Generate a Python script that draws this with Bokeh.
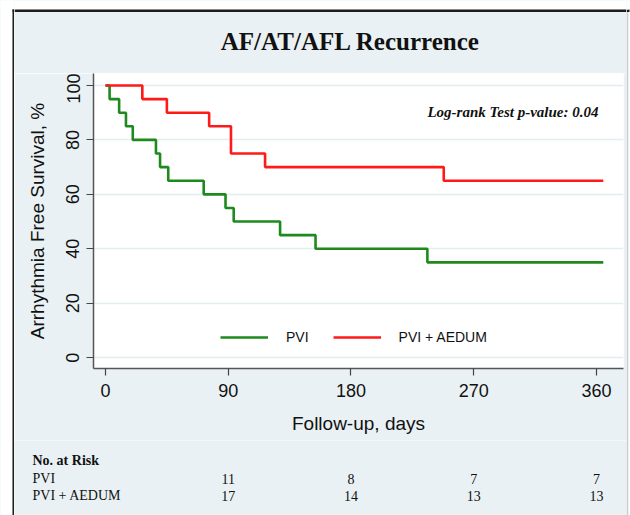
from bokeh.plotting import figure
from bokeh.models import Range1d, FixedTicker, Label, Legend, LegendItem
from bokeh.layouts import column, row
from bokeh.core.properties import value
from bokeh.embed import file_html
from bokeh.resources import INLINE

# ---- data ----
pvi_days = [0, 3, 10, 15, 20, 37, 40, 46, 72, 88, 94, 128, 154, 236, 365]
pvi_surv = [100, 95, 90, 85, 80, 75, 70, 65, 60, 55, 50, 45, 40, 35, 35]
aedum_days = [0, 27, 45, 76, 92, 117, 248, 365]
aedum_surv = [100, 95, 90, 85, 75, 70, 65, 65]

x_ticks = [0, 90, 180, 270, 360]
y_ticks = [0, 20, 40, 60, 80, 100]
risk_days = [90, 180, 270, 360]
risk_pvi = [11, 8, 7, 7]
risk_aedum = [17, 14, 13, 13]
risk_rows = ["PVI", "PVI + AEDUM"]

title_text = "AF/AT/AFL Recurrence"
pvalue_text = "Log-rank Test p-value: 0.04"
risk_title = "No. at Risk"

BG = "#e9f1f4"
DARK = "#1c1c1c"
GRAY = "#c8cfd2"
GREEN = "#1e8a1e"
RED = "#ff1a1a"
TXT = "#111111"
SANS = "Liberation Sans"
SERIF = "Liberation Serif"

W, H = 630, 515
LSTRIP, RSTRIP = 14, 4
TOP_H, TABLE_H = 73, 75
MAIN_H = H - TOP_H - TABLE_H
MID_W = W - LSTRIP - RSTRIP
FL, FR, FB = 93, 623, 368          # frame left/right/bottom on the page
X_RANGE = (-8.8, 379.8)


def deco_fig(w, h, x0=0, y0=0):
    f = figure(width=w, height=h, output_backend="svg", toolbar_location=None,
               x_range=Range1d(x0, x0 + w), y_range=Range1d(y0 + h, y0),
               x_axis_type=None, y_axis_type=None, title=None,
               min_border=0, min_border_left=0, min_border_right=0,
               min_border_top=0, min_border_bottom=0)
    f.outline_line_color = None
    f.background_fill_color = BG
    f.border_fill_color = BG
    f.grid.visible = False
    return f


# ---- left / right strips (full height) ----
ls = deco_fig(LSTRIP, H)
ls.quad(left=[0, 0, 12], right=[LSTRIP, 12, 14.5], top=[0, 0, 9], bottom=[9, H, H],
        fill_color=["white", "white", DARK], line_color=None)
ls.quad(left=[12], right=[LSTRIP], top=[9], bottom=[11.5], fill_color=DARK, line_color=None)

rs = deco_fig(RSTRIP, H, x0=W - RSTRIP)
rs.quad(left=[626, 628, 626], right=[628, W, 629], top=[11.5, 0, 9], bottom=[H, H, 11.5],
        fill_color=[GRAY, "white", DARK], line_color=None)
rs.quad(left=[626], right=[628], top=[0], bottom=[9], fill_color="white", line_color=None)

# ---- title strip ----
t = deco_fig(MID_W, TOP_H, x0=LSTRIP)
t.quad(left=[LSTRIP, LSTRIP], right=[W - RSTRIP, W - RSTRIP], top=[0, 9], bottom=[9, 11.5],
       fill_color=["white", DARK], line_color=None)
t.text(x=[350], y=[41], text=[title_text], text_font=value(SERIF),
       text_font_size="25px", text_font_style="bold", text_align="center",
       text_baseline="middle", text_color=TXT)

# ---- main plot ----
p = figure(width=MID_W, height=MAIN_H, output_backend="svg", toolbar_location=None,
           title=None, x_range=Range1d(*X_RANGE), y_range=Range1d(-4.0, 104.4),
           min_border_left=FL - LSTRIP, min_border_right=W - RSTRIP - FR,
           min_border_top=0, min_border_bottom=MAIN_H - (FB - TOP_H))
p.border_fill_color = BG
p.background_fill_color = "white"
p.outline_line_color = None
p.xgrid.grid_line_color = None
p.ygrid.grid_line_color = "#e4edf0"
p.ygrid.grid_line_width = 1.5

for ax in (p.xaxis[0], p.yaxis[0]):
    ax.axis_line_color = "#555555"
    ax.axis_line_width = 1.5
    ax.major_tick_line_color = "#444444"
    ax.major_tick_line_width = 1.2
    ax.major_tick_out = 7
    ax.major_tick_in = 0
    ax.minor_tick_line_color = None
    ax.major_label_text_font = SANS
    ax.major_label_text_font_size = "18px"
    ax.major_label_text_color = TXT
    ax.axis_label_text_font = SANS
    ax.axis_label_text_font_size = "19px"
    ax.axis_label_text_font_style = "normal"
    ax.axis_label_text_color = TXT

p.xaxis.ticker = FixedTicker(ticks=x_ticks)
p.yaxis.ticker = FixedTicker(ticks=y_ticks)
p.yaxis.major_label_orientation = "vertical"
p.xaxis.axis_label = "Follow-up, days"
p.yaxis.axis_label = "Arrhythmia Free Survival, %"
p.xaxis.major_label_standoff = 8
p.xaxis.axis_label_standoff = 13
p.yaxis.major_label_standoff = 7
p.yaxis.axis_label_standoff = 16

r_pvi = p.step(pvi_days, pvi_surv, mode="after", line_color=GREEN, line_width=2.6)
r_aed = p.step(aedum_days, aedum_surv, mode="after", line_color=RED, line_width=2.6)

legend = Legend(items=[LegendItem(label=risk_rows[0], renderers=[r_pvi]),
                       LegendItem(label=risk_rows[1], renderers=[r_aed])],
                orientation="horizontal", location=(127, 21),
                border_line_color=None, background_fill_alpha=0,
                padding=0, margin=0, spacing=24,
                glyph_width=48, glyph_height=20, label_height=20,
                label_standoff=18,
                label_text_font=SANS, label_text_font_size="14px",
                label_text_color=TXT)
p.add_layout(legend, "center")

p.add_layout(Label(x=FR - 25 - FL, y=FB - 111, x_units="screen", y_units="screen",
                   text=pvalue_text, text_font=SERIF, text_font_size="15px",
                   text_font_style="bold italic", text_align="right",
                   text_baseline="middle", text_color=TXT))

# ---- number-at-risk table (x mapped with the same scale as the main plot) ----
scale = (FR - FL) / (X_RANGE[1] - X_RANGE[0])
tx0 = X_RANGE[0] + (LSTRIP - FL) / scale
tx1 = X_RANGE[0] + (W - RSTRIP - FL) / scale
tb = figure(width=MID_W, height=TABLE_H, output_backend="svg", toolbar_location=None,
            x_range=Range1d(tx0, tx1), y_range=Range1d(TABLE_H, 0),
            x_axis_type=None, y_axis_type=None, title=None,
            min_border=0, min_border_left=0, min_border_right=0,
            min_border_top=0, min_border_bottom=0)
tb.outline_line_color = None
tb.background_fill_color = BG
tb.border_fill_color = BG
tb.grid.visible = False
tb.extra_x_ranges = {"px": Range1d(LSTRIP, W - RSTRIP)}
tb.text(x=[32], y=[20], text=[risk_title], x_range_name="px",
        text_font=value(SERIF), text_font_size="14px", text_font_style="bold",
        text_baseline="middle", text_color=TXT)
tb.text(x=[32, 32], y=[38, 55], text=risk_rows, x_range_name="px",
        text_font=value(SERIF), text_font_size="14px",
        text_baseline="middle", text_color=TXT)
tb.text(x=risk_days, y=[38] * len(risk_days), text=[str(v) for v in risk_pvi],
        text_font=value(SERIF), text_font_size="14px", text_align="center",
        text_baseline="middle", text_color=TXT)
tb.text(x=risk_days, y=[55] * len(risk_days), text=[str(v) for v in risk_aedum],
        text_font=value(SERIF), text_font_size="14px", text_align="center",
        text_baseline="middle", text_color=TXT)

layout = row(ls, column(t, row(p, spacing=0), tb, spacing=0), rs, spacing=0)
open("out.html", "w").write(file_html(layout, INLINE))
